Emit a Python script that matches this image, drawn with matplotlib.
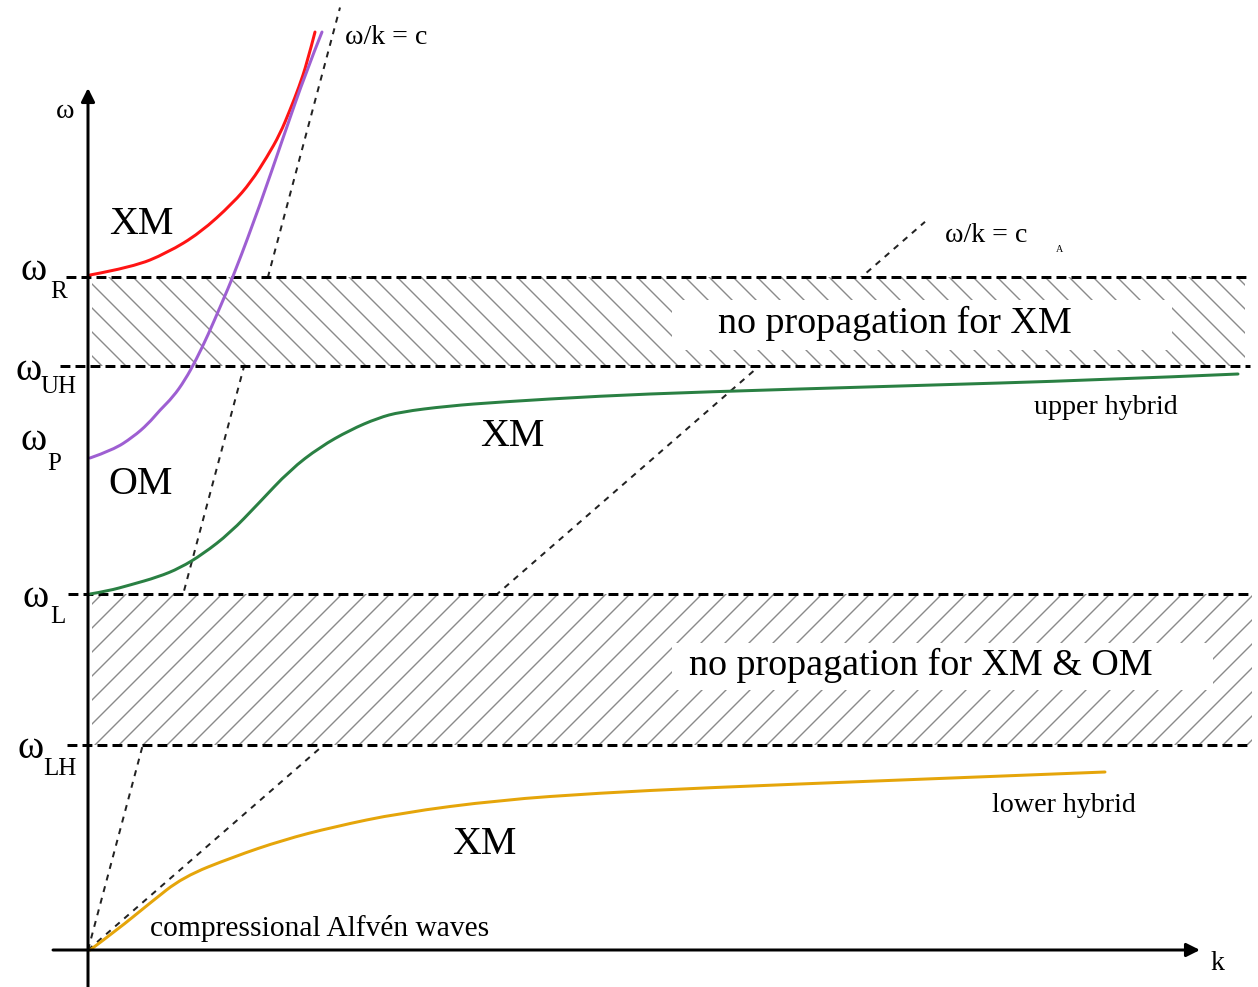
import numpy as np
import matplotlib
matplotlib.use("Agg")
import matplotlib.pyplot as plt
from matplotlib.patches import Rectangle, PathPatch
from matplotlib.path import Path

plt.rcParams['font.family'] = ['Liberation Serif', 'DejaVu Serif']
plt.rcParams['hatch.linewidth'] = 1.4
plt.rcParams['hatch.color'] = '#8a8a8a'

# ---- data (k, omega in arbitrary schematic units) ----
level_names = ['R', 'UH', 'P', 'L', 'LH']
level_values = [673, 584, 493, 356, 205]

red_k = [2, 45, 79, 112, 145, 163, 179, 192, 202, 211, 219, 227]
red_w = [675, 683, 697, 717, 747, 768, 793, 816, 840, 863, 887, 918]

purple_k = [2, 25, 45, 60, 72, 85, 97, 108, 120, 133, 147, 172, 195, 218, 234]
purple_w = [492, 500, 513, 526, 540, 553, 570, 590, 615, 645, 678, 745, 812, 878, 918]

green_k = [2, 20, 42, 70, 92, 115, 142, 170, 202, 232, 262, 290, 312, 360, 412, 512, 612, 812, 1012, 1150]
green_w = [356, 359, 365, 373, 382, 396, 417, 446, 480, 503, 520, 532, 538, 544, 548, 554, 558, 564, 570, 576]

orange_k = [2, 29, 62, 95, 145, 195, 245, 312, 412, 512, 612, 812, 1017]
orange_w = [0, 20, 47, 73, 93, 110, 123, 137, 150, 157, 162, 170, 178]

c_slope = 3.74      # omega/k = c
cA_slope = 0.87     # omega/k = c_A
c_kmax = 252
cA_kmax = 837


def smooth_path(xs, ys):
    """Quadratic B-spline path through the read points (rendered by matplotlib)."""
    pts = np.column_stack([xs, ys]).astype(float)
    n = len(pts)
    verts = [pts[0]]
    codes = [Path.MOVETO]
    for i in range(1, n - 1):
        end = pts[n - 1] if i == n - 2 else (pts[i] + pts[i + 1]) / 2
        verts += [pts[i], end]
        codes += [Path.CURVE3, Path.CURVE3]
    return Path(verts, codes)


fig = plt.figure(figsize=(1258 / 72, 987 / 72), dpi=72)
ax = fig.add_axes([0, 0, 1, 1])
ax.set_xlim(-88, 1170)
ax.set_ylim(-37, 950)
ax.axis('off')

# sloped light-cone lines
kc = np.array([0, c_kmax])
ax.plot(kc, c_slope * kc, color='#222222', lw=2, ls=(0, (3, 3)), zorder=1)
kA = np.array([0, cA_kmax])
ax.plot(kA, cA_slope * kA, color='#222222', lw=2, ls=(0, (3, 3)), zorder=1)

# hatched stop bands
wR, wUH, wP, wL, wLH = level_values
ax.add_patch(Rectangle((4, wUH), 1153, wR - wUH, facecolor='white',
                       edgecolor='#8a8a8a', hatch='\\', lw=0, zorder=2))
ax.add_patch(Rectangle((4, wLH), 1160, wL - wLH, facecolor='white',
                       edgecolor='#8a8a8a', hatch='/', lw=0, zorder=2))
# white boxes behind band captions
ax.add_patch(Rectangle((584, 600), 500, 50, facecolor='white', lw=0, zorder=3))
ax.add_patch(Rectangle((584, 260), 541, 47, facecolor='white', lw=0, zorder=3))

# horizontal dashed cutoff lines
starts = {'R': -22, 'UH': -28, 'L': -20, 'LH': -21}
for name, val in zip(level_names, level_values):
    if name in starts:
        ax.plot([starts[name], 1162], [val, val], color='black', lw=3,
                ls=(0, (3.3, 1.7)), zorder=3)

# dispersion curves
for xs, ys, col in [(red_k, red_w, '#ff1414'),
                    (purple_k, purple_w, '#9e5fd2'),
                    (green_k, green_w, '#2a8043'),
                    (orange_k, orange_w, '#e5a50a')]:
    ax.add_patch(PathPatch(smooth_path(xs, ys), facecolor='none', edgecolor=col,
                           lw=3, capstyle='round', zorder=5))

# axes with arrows
ax.annotate('', xy=(0, 862), xytext=(0, -40),
            arrowprops=dict(arrowstyle='-|>', lw=3, color='black',
                            mutation_scale=28, shrinkA=0, shrinkB=0), zorder=6)
ax.annotate('', xy=(1112, 0), xytext=(-35, 0),
            arrowprops=dict(arrowstyle='-|>', lw=3, color='black',
                            mutation_scale=28, shrinkA=0, shrinkB=0), zorder=6)
ax.text(-23, 839, 'ω', fontsize=28, ha='center', va='center', zorder=7)
ax.text(1129, -13, 'k', fontsize=28, ha='center', va='center', zorder=7)

# level labels
lab_pos = {
    'R': ((-68, 670), (-38, 652)),
    'UH': ((-73, 570), (-48, 557)),
    'P': ((-68, 500), (-41, 480)),
    'L': ((-66, 343), (-38, 327)),
    'LH': ((-71, 192), (-45, 175)),
}
for name in level_names:
    (x1, y1), (x2, y2) = lab_pos[name]
    ax.text(x1, y1, 'ω', fontsize=40, ha='left', va='baseline', zorder=7)
    ax.text(x2, y2, name, fontsize=25, ha='left', va='baseline', zorder=7)

# region labels
big = 40
ax.text(53, 726, 'XM', fontsize=big, ha='center', va='center', zorder=7)
ax.text(53, 465, 'OM', fontsize=big, ha='center', va='center', zorder=7)
ax.text(424, 513, 'XM', fontsize=big, ha='center', va='center', zorder=7)
ax.text(396, 105, 'XM', fontsize=big, ha='center', va='center', zorder=7)
ax.text(807, 627, 'no propagation for XM', fontsize=38, ha='center', va='center', zorder=7)
ax.text(833, 285, 'no propagation for XM & OM', fontsize=38, ha='center', va='center', zorder=7)

ax.text(1018, 543, 'upper hybrid', fontsize=28, ha='center', va='center', zorder=7)
ax.text(976, 144, 'lower hybrid', fontsize=28, ha='center', va='center', zorder=7)
ax.text(232, 21, 'compressional Alfvén waves', fontsize=29.5, ha='center', va='center', zorder=7)

ax.text(257, 912, 'ω/k = c', fontsize=28, ha='left', va='center', zorder=7)
ax.text(857, 714, 'ω/k = c', fontsize=28, ha='left', va='center', zorder=7)
ax.text(972, 700, 'A', fontsize=10, ha='center', va='center', zorder=7)

fig.savefig('out.png', dpi=72)
